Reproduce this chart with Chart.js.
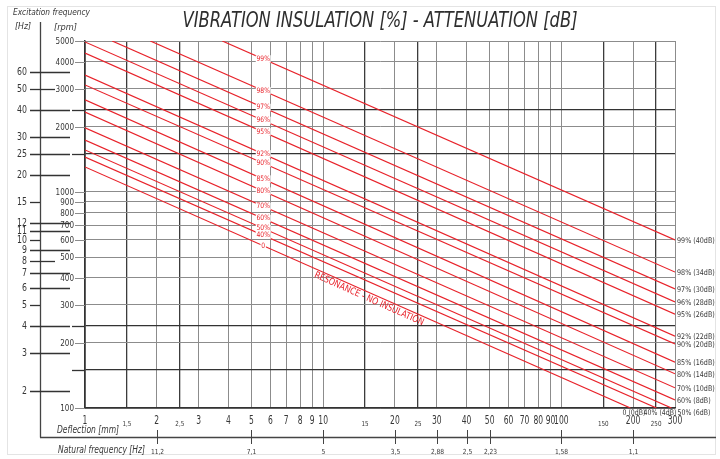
<!DOCTYPE html>
<html>
<head>
<meta charset="utf-8">
<script src="https://cdn.jsdelivr.net/npm/chart.js@4.4.1/dist/chart.umd.min.js"></script>
<style>
  body { margin: 0; background: #fff; }
  #wrap { width: 720px; height: 459px; }
</style>
</head>
<body>
<div id="wrap"><canvas id="chart" width="720" height="459"></canvas></div>
<script>
// Axis ticks
const deflectionTicks = [1, 1.5, 2, 2.5, 3, 4, 5, 6, 7, 8, 9, 10, 15, 20, 25, 30, 40, 50, 60, 70, 80, 90, 100, 150, 200, 250, 300];
const deflectionMinor = [1.5, 2.5, 15, 25, 150, 250];
const deflectionLabels = ['1', '1,5', '2', '2,5', '3', '4', '5', '6', '7', '8', '9', '10', '15', '20', '25', '30', '40', '50', '60', '70', '80', '90', '100', '150', '200', '250', '300'];
const rpmTicks = [100, 200, 300, 400, 500, 600, 700, 800, 900, 1000, 2000, 3000, 4000, 5000];
const hzTicks = [2, 3, 4, 5, 6, 7, 8, 9, 10, 11, 12, 15, 20, 25, 30, 40, 50, 60];
const hzDarkLines = [2.5, 4, 25, 40];
const naturalFreqDeflection = [2, 5, 10, 20, 30, 40, 50, 100, 200];
const naturalFreqLabels = ['11,2', '7,1', '5', '3,5', '2,88', '2,5', '2,23', '1,58', '1,1'];

// Isolation lines
const isolation = ['99%', '98%', '97%', '96%', '95%', '92%', '90%', '85%', '80%', '70%', '60%', '50%', '40%', '0'];
const attenuationDb = [40, 34, 30, 28, 26, 22, 20, 16, 14, 10, 8, 6, 4, 0];
const startDeflection = [3.77, 1.88, 1.30, 1, 1, 1, 1, 1, 1, 1, 1, 1, 1, 1];
const startRpm = [5000, 5000, 5000, 4950, 4400, 3480, 3130, 2670, 2345, 1980, 1740, 1565, 1452, 1306];
const endDeflection = [300, 300, 300, 300, 300, 300, 300, 300, 300, 300, 300, 290, 251, 195];
const endRpm = [600, 426, 356, 310, 272, 215, 198, 163, 144, 124, 109, 100, 100, 100];
const labelDeflection = 5.6;

const RED = '#e8222a';
const INK = '#363636';
const GRID = '#8c8c8c';
const FONT = '"DejaVu Sans"';

function txt(ctx, s, x, y, size, o) {
    o = o || {};
    ctx.save();
    ctx.translate(x, y);
    if (o.rot) ctx.rotate(o.rot);
    ctx.font = (o.italic ? 'italic ' : '') + size + 'px ' + FONT;
    let sx = o.sx || 1;
    if (o.fit) sx = o.fit / ctx.measureText(s).width;
    ctx.scale(sx, 1);
    ctx.fillStyle = o.color || INK;
    ctx.textAlign = o.align || 'center';
    ctx.textBaseline = o.base || 'middle';
    if (o.bg) {
        const w = ctx.measureText(s).width;
        ctx.fillStyle = '#fff';
        ctx.fillRect(-w / 2 - 1, -size / 2, w + 2, size);
        ctx.fillStyle = o.color || INK;
    }
    ctx.fillText(s, 0, 0);
    ctx.restore();
}

function line(ctx, x1, y1, x2, y2, color, w) {
    ctx.save();
    ctx.strokeStyle = color;
    ctx.lineWidth = w || 1;
    ctx.beginPath();
    ctx.moveTo(x1, y1);
    ctx.lineTo(x2, y2);
    ctx.stroke();
    ctx.restore();
}

const decorations = {
    id: 'decorations',
    afterDatasetsDraw(chart) {
        const ctx = chart.ctx;
        const xs = chart.scales.x, ys = chart.scales.y;
        const area = chart.chartArea;

        // frame
        ctx.save();
        ctx.strokeStyle = '#e4e4e4';
        ctx.strokeRect(7.5, 6.5, 708, 448);
        ctx.restore();

        // title
        txt(ctx, 'VIBRATION INSULATION [%] - ATTENUATION [dB]', 380, 22, 21, { italic: true, fit: 395, color: '#2e2e2e' });

        // labels on the lines
        const lx = xs.getPixelForValue(labelDeflection);
        isolation.forEach((lab, i) => {
            const x1 = xs.getPixelForValue(startDeflection[i]), y1 = ys.getPixelForValue(startRpm[i]);
            const x2 = xs.getPixelForValue(endDeflection[i]), y2 = ys.getPixelForValue(endRpm[i]);
            const ly = y1 + (y2 - y1) * (lx - x1) / (x2 - x1);
            txt(ctx, lab, lx, ly, 7.5, { sx: 0.8, color: RED, bg: true });
            const right = lab + ' (' + attenuationDb[i] + 'dB)';
            if (endDeflection[i] >= 300) {
                txt(ctx, right, area.right + 2, y2 + 1, 7.8, { sx: 0.82, color: INK, align: 'left' });
            } else {
                const dx = i === 11 ? 6 : (i === 12 ? -13 : -8);
                txt(ctx, right, x2 + dx, area.bottom + 5, 7.8, { sx: 0.8, color: INK, align: 'left' });
            }
        });

        // resonance text
        txt(ctx, 'RESONANCE - NO INSULATION', 369, 299, 9.5, { fit: 119, color: RED, rot: 24 * Math.PI / 180 });

        // left: excitation frequency axes
        txt(ctx, 'Excitation frequency', 13, 13, 9, { italic: true, fit: 77, align: 'left' });
        txt(ctx, '[Hz]', 15, 27, 9, { italic: true, fit: 16, align: 'left' });
        txt(ctx, '[rpm]', 54, 28, 9, { italic: true, fit: 23, align: 'left' });
        line(ctx, 40.5, 22, 40.5, 437.5, '#444', 1.3);
        line(ctx, 40, 437.5, 716, 437.5, '#444', 1.3);

        const shortHz = { 15: 40, 10: 40, 5: 40, 50: 55, 8: 55 };
        hzTicks.forEach(hz => {
            const y = Math.round(ys.getPixelForValue(hz * 60)) + 0.5;
            line(ctx, 30, y, shortHz[hz] || 70, y, '#333', 1.3);
            txt(ctx, String(hz), 27, y, 10, { sx: 0.78, align: 'right' });
        });
        hzDarkLines.forEach(hz => {
            const y = Math.round(ys.getPixelForValue(hz * 60)) + 0.5;
            line(ctx, 72, y, area.left, y, '#333', 1.3);
        });
        rpmTicks.forEach(v => {
            const y = Math.round(ys.getPixelForValue(v)) + 0.5;
            line(ctx, 75, y, area.left, y, GRID, 1);
            txt(ctx, String(v), 74, y, 8.5, { sx: 0.85, align: 'right' });
        });

        // bottom: deflection labels
        deflectionTicks.forEach((d, i) => {
            const x = xs.getPixelForValue(d);
            if (deflectionMinor.includes(d)) {
                txt(ctx, deflectionLabels[i], x, 424, 7, { sx: 0.8 });
            } else {
                txt(ctx, deflectionLabels[i], x, 421, 11.5, { sx: 0.66 });
            }
        });
        txt(ctx, 'Deflection [mm]', 57, 430, 10, { italic: true, fit: 62, align: 'left' });

        // natural frequency axis
        naturalFreqDeflection.forEach((d, i) => {
            const x = Math.round(xs.getPixelForValue(d)) + 0.5;
            line(ctx, x, 430, x, 444, '#444', 1);
            txt(ctx, naturalFreqLabels[i], x, 452, 7, { sx: 0.85 });
        });
        txt(ctx, 'Natural frequency [Hz]', 58, 450, 10, { italic: true, fit: 87, align: 'left' });
    }
};

const datasets = isolation.map((lab, i) => ({
    label: lab,
    data: [
        { x: startDeflection[i], y: startRpm[i] },
        { x: endDeflection[i], y: endRpm[i] }
    ],
    borderColor: RED,
    borderWidth: 1.2,
    pointRadius: 0,
    tension: 0
}));

const darkX = deflectionMinor;
const darkY = hzDarkLines.map(hz => hz * 60);
const yGridTicks = rpmTicks.concat(darkY).sort((a, b) => a - b);

new Chart(document.getElementById('chart').getContext('2d'), {
    type: 'line',
    data: { datasets: datasets },
    options: {
        responsive: false,
        animation: false,
        layout: { padding: { left: 85, right: 45, top: 41, bottom: 51 } },
        plugins: { legend: { display: false }, tooltip: { enabled: false } },
        scales: {
            x: {
                type: 'logarithmic',
                min: 1,
                max: 300,
                afterBuildTicks: s => { s.ticks = deflectionTicks.map(v => ({ value: v })); },
                ticks: { display: false },
                grid: {
                    drawTicks: false,
                    color: c => darkX.includes(c.tick && c.tick.value) ? '#3c3c3c' : GRID,
                    lineWidth: c => darkX.includes(c.tick && c.tick.value) ? 1.3 : 1
                },
                border: { display: true, color: '#333', width: 1.5 }
            },
            y: {
                type: 'logarithmic',
                min: 100,
                max: 5000,
                afterBuildTicks: s => { s.ticks = yGridTicks.map(v => ({ value: v })); },
                ticks: { display: false },
                grid: {
                    drawTicks: false,
                    color: c => darkY.includes(c.tick && c.tick.value) ? '#333' : GRID,
                    lineWidth: c => darkY.includes(c.tick && c.tick.value) ? 1.3 : 1
                },
                border: { display: true, color: '#333', width: 1.5 }
            }
        }
    },
    plugins: [decorations]
});
</script>
</body>
</html>
